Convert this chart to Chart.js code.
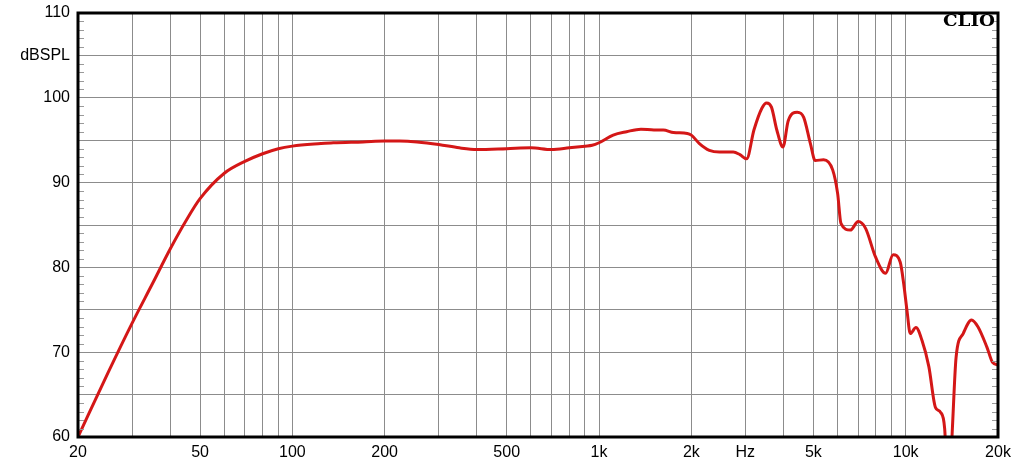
<!DOCTYPE html>
<html>
<head>
<meta charset="utf-8">
<script src="https://cdn.jsdelivr.net/npm/chart.js@4/dist/chart.umd.min.js"></script>
<style>
    html, body { margin: 0; padding: 0; background: #ffffff; }
    #chartBox { width: 1024px; height: 464px; position: relative; }
</style>
</head>
<body>
<div id="chartBox"><canvas id="responseChart"></canvas></div>
<script>
// Frequency points (Hz)
const frequencies = [
    20, 25, 30, 35, 40, 45, 50, 60, 70, 80, 90, 100, 124, 136, 170, 200, 224, 255,
    300, 350, 400, 500, 600, 700, 800, 900, 950, 1000, 1112, 1230, 1370, 1510, 1620,
    1750, 1940, 2000, 2125, 2290, 2470, 2740, 2880, 3030, 3200, 3400, 3520, 3650,
    3800, 3980, 4140, 4430, 4650, 4890, 5070, 5400, 5780, 6000, 6150, 6600, 7000,
    7400, 7980, 8600, 9100, 9600, 9850, 10100, 10350, 10800, 11300, 11900, 12500,
    13000, 13400, 13800, 14200, 14600, 15400, 16400, 17200, 18400, 19200, 20000
];

// Sound pressure level (dBSPL) at each frequency
const splValues = [
    60.0, 67.5, 73.4, 78.1, 82.2, 85.5, 88.1, 91.1, 92.5, 93.4, 94.0, 94.3, 94.6, 94.7, 94.8, 94.9, 94.9, 94.8,
    94.5, 94.1, 93.9, 94.0, 94.1, 93.9, 94.1, 94.3, 94.4, 94.7, 95.6, 96.0, 96.3, 96.2, 96.2,
    95.9, 95.8, 95.6, 94.6, 93.8, 93.6, 93.6, 93.3, 92.8, 96.2, 98.8, 99.4, 98.9,
    96.2, 94.2, 97.3, 98.3, 97.7, 94.6, 92.6, 92.7, 91.5, 88.7, 85.2, 84.4, 85.4,
    84.6, 81.2, 79.3, 81.5, 80.6, 78.1, 74.9, 72.2, 72.9, 71.4, 68.3, 63.5,
    62.9, 61.0, 52.0, 61.0, 69.4, 72.2, 73.8, 73.0, 70.6, 68.8, 68.5
];

// Vertical grid lines and the labels shown under some of them
const xGridValues = [
    20, 30, 40, 50, 60, 70, 80, 90, 100, 200, 300, 400, 500, 600, 700, 800, 900,
    1000, 2000, 3000, 4000, 5000, 6000, 7000, 8000, 9000, 10000, 20000
];
const xTickLabels = {20: '20', 50: '50', 100: '100', 200: '200', 500: '500', 1000: '1k',
    2000: '2k', 3000: 'Hz', 5000: '5k', 10000: '10k', 20000: '20k'};

// Horizontal grid every 5 dB, labels every 10 dB plus the unit
const yTickLabels = {60: '60', 70: '70', 80: '80', 90: '90', 100: '100', 105: 'dBSPL', 110: '110'};

const gridColor = '#8c8c8c';
const curveColor = '#d41717';

// Plugin drawing the heavy frame, the small dB ticks and the CLIO mark
const framePlugin = {
    id: 'frame',
    afterDatasetsDraw(chart) {
        const ctx = chart.ctx;
        const area = chart.chartArea;
        const yScale = chart.scales.y;

        ctx.save();
        // Minor ticks every 1 dB inside the left and right edges
        ctx.strokeStyle = '#9a9a9a';
        ctx.lineWidth = 1;
        for (let db = 61; db < 110; db++) {
            if (db % 5 === 0) continue;
            const y = Math.round(yScale.getPixelForValue(db)) + 0.5;
            ctx.beginPath();
            ctx.moveTo(area.left, y);
            ctx.lineTo(area.left + 6, y);
            ctx.moveTo(area.right - 6, y);
            ctx.lineTo(area.right, y);
            ctx.stroke();
        }

        // Thick black border around the plot
        ctx.strokeStyle = '#000000';
        ctx.lineWidth = 3;
        ctx.strokeRect(area.left, area.top, area.right - area.left, area.bottom - area.top);

        // CLIO mark in the top right corner, stretched to the reference width
        ctx.fillStyle = '#000000';
        ctx.font = 'bold 16px "DejaVu Serif", "Liberation Serif", serif';
        ctx.textAlign = 'left';
        ctx.textBaseline = 'top';
        const textWidth = ctx.measureText('CLIO').width;
        const targetWidth = 52;
        ctx.translate(area.right - 3 - targetWidth, area.top + 1);
        ctx.scale(targetWidth / textWidth, 1);
        ctx.fillText('CLIO', 0, 0);
        ctx.restore();
    }
};

// Build the response chart
function buildChart() {
    const points = frequencies.map((f, i) => ({x: f, y: splValues[i]}));
    const canvasContext = document.getElementById('responseChart').getContext('2d');

    return new Chart(canvasContext, {
        type: 'scatter',
        data: {
            datasets: [{
                data: points,
                showLine: true,
                borderColor: curveColor,
                borderWidth: 3,
                pointRadius: 0,
                cubicInterpolationMode: 'monotone',
                clip: 0
            }]
        },
        options: {
            responsive: true,
            maintainAspectRatio: false,
            animation: false,
            layout: {
                padding: {top: 13, right: 26, left: 0, bottom: 0}
            },
            plugins: {
                legend: {display: false},
                tooltip: {enabled: false}
            },
            scales: {
                x: {
                    type: 'logarithmic',
                    min: 20,
                    max: 20000,
                    afterBuildTicks: scale => {
                        scale.ticks = xGridValues.map(v => ({value: v}));
                    },
                    afterFit: scale => {
                        scale.height = 27;
                    },
                    grid: {color: gridColor, lineWidth: 1, drawTicks: false},
                    border: {display: false},
                    ticks: {
                        autoSkip: false,
                        maxRotation: 0,
                        padding: 6,
                        color: '#000000',
                        font: {family: '"Liberation Sans", Arial, sans-serif', size: 16},
                        callback: value => xTickLabels[value] || ''
                    }
                },
                y: {
                    min: 60,
                    max: 110,
                    afterBuildTicks: scale => {
                        const ticks = [];
                        for (let v = 60; v <= 110; v += 5) ticks.push({value: v});
                        scale.ticks = ticks;
                    },
                    afterFit: scale => {
                        // Fixed label column, and no extra room for the top label
                        scale.width = 78;
                        scale.paddingTop = 0;
                        scale.paddingBottom = 0;
                    },
                    grid: {color: gridColor, lineWidth: 1, drawTicks: false},
                    border: {display: false},
                    ticks: {
                        autoSkip: false,
                        padding: 8,
                        color: '#000000',
                        font: {family: '"Liberation Sans", Arial, sans-serif', size: 16},
                        callback: value => yTickLabels[value] || ''
                    }
                }
            }
        },
        plugins: [framePlugin]
    });
}

document.addEventListener('DOMContentLoaded', buildChart);
</script>
</body>
</html>
